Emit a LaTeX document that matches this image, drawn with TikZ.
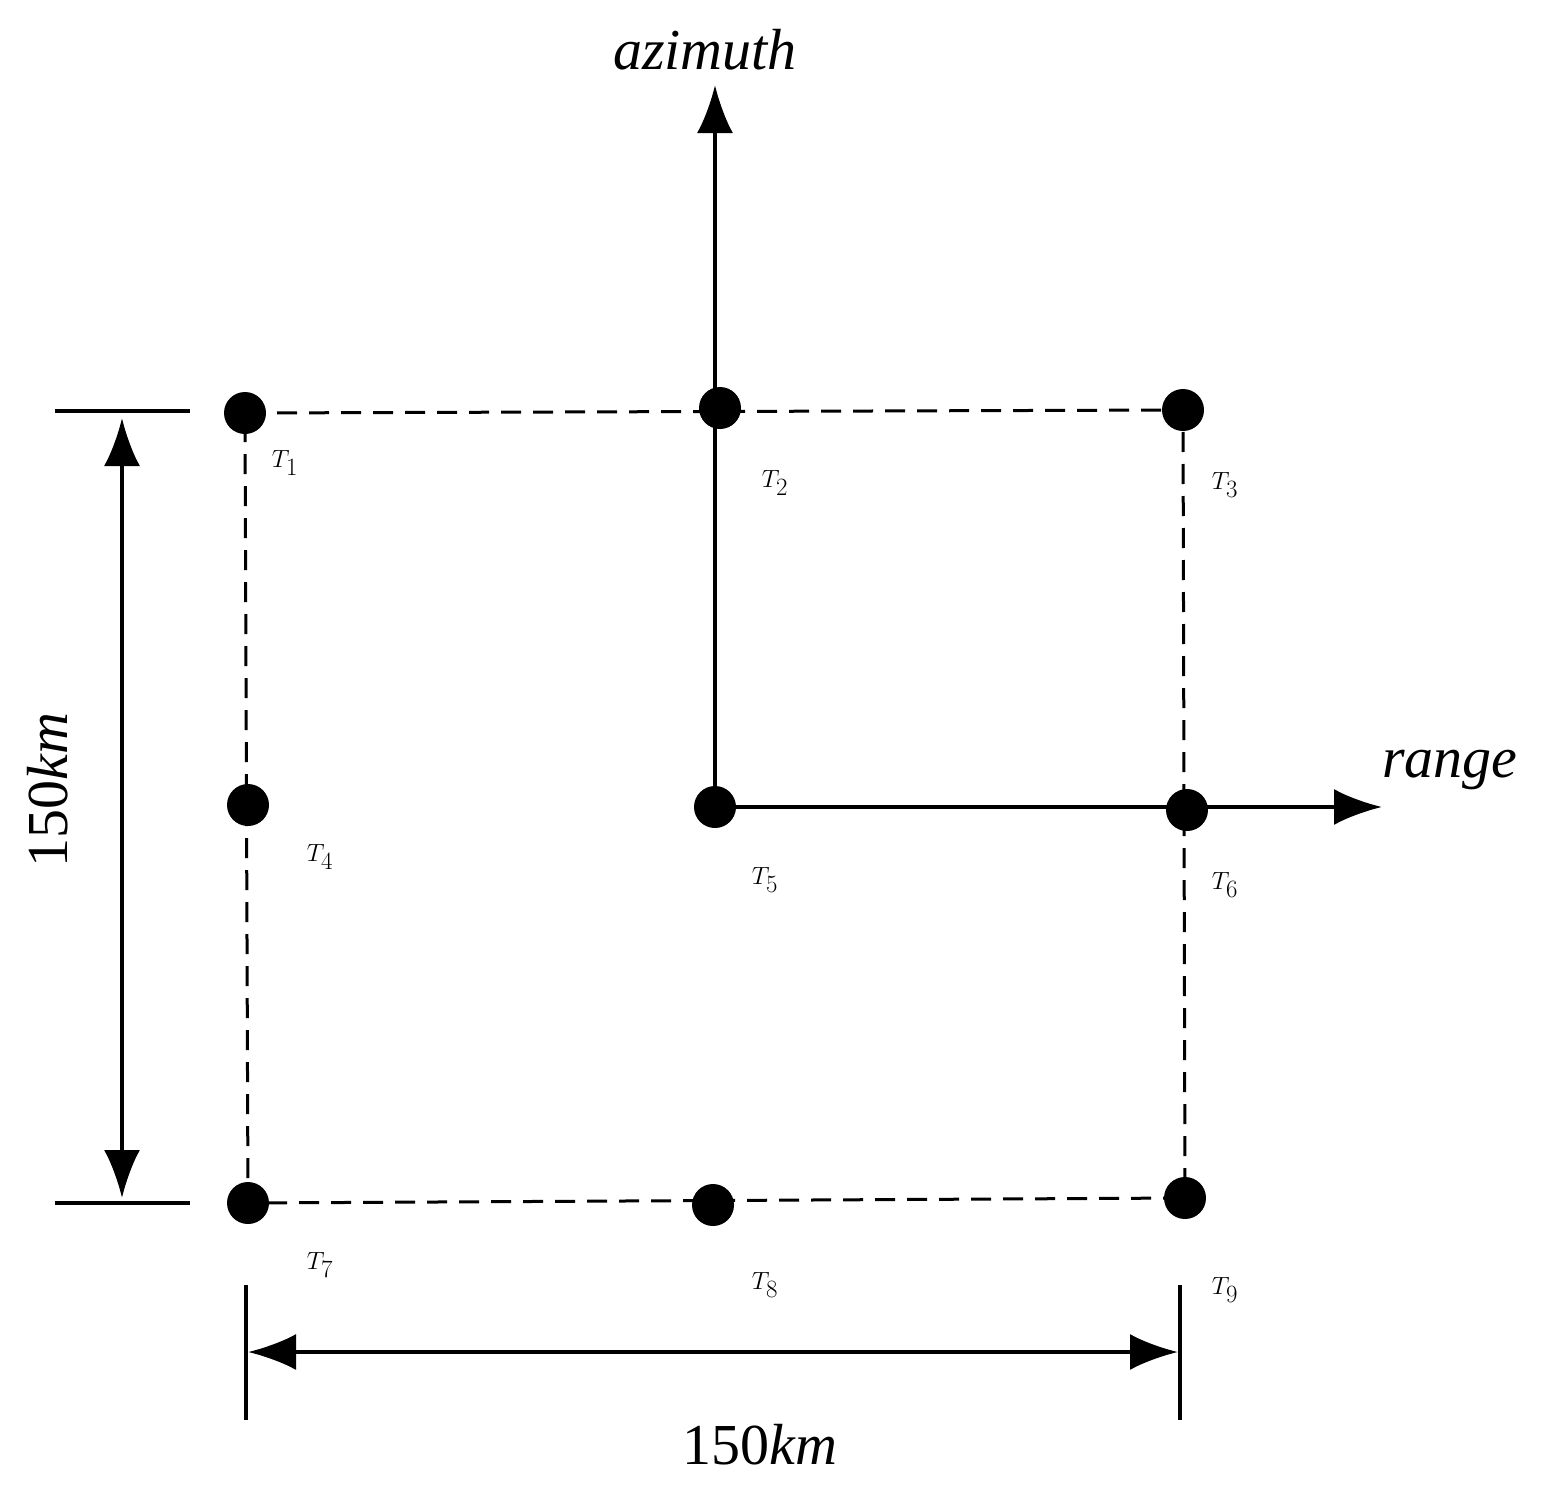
\documentclass[tikz,border=0pt]{standalone}
\usepackage{fontspec}
\setmainfont{Liberation Serif}
\usetikzlibrary{arrows.meta}
\begin{document}
\begin{tikzpicture}[x=1pt,y=-1pt,
  dot/.style={circle,fill=black,inner sep=0pt,minimum size=42pt},
  dsh/.style={line width=3pt,dash pattern=on 20pt off 12pt},
  ln/.style={line width=4pt},
  arr/.style={ln,-{Latex[length=48pt,width=36pt]}},
  darr/.style={ln,{Latex[length=48pt,width=36pt]}-{Latex[length=48pt,width=36pt]}},
  lab/.style={font=\fontsize{58}{60}\selectfont,inner sep=0pt}]
\useasboundingbox (0,0) rectangle (1550,1491);
\node[dot] (T1) at (245,413) {};
\node[dot] (T2) at (720,408) {};
\node[dot] (T3) at (1183,410) {};
\node[dot] (T4) at (248,805) {};
\node[dot] (T5) at (715,807) {};
\node[dot] (T6) at (1187,810) {};
\node[dot] (T7) at (248,1203) {};
\node[dot] (T8) at (713,1205) {};
\node[dot] (T9) at (1185,1198) {};
\draw[dsh] (T1.center) -- (T3.center) -- (T9.center) -- (T7.center) -- cycle;
\coordinate (az) at (715,85);
\coordinate (rg) at (1382,807);
\draw[arr] (T5.center) -- (az);
\draw[arr] (T5.center) -- (rg);
\node[lab,anchor=south] at (705,70) {\itshape azimuth};
\node[lab] at (1450,770) {\itshape range};
\foreach \n/\x/\y in {1/285/463,2/775/483,3/1225/485,4/320/857,5/765/880,6/1225/885,7/320/1265,8/765/1285,9/1225/1290}
  \node[lab] at (\x,\y) {$T_{\n}$};
% vertical dimension
\coordinate (a1) at (55,411); \coordinate (a2) at (190,411);
\coordinate (b1) at (55,1203); \coordinate (b2) at (190,1203);
\draw[ln] (a1) -- (a2); \draw[ln] (b1) -- (b2);
\coordinate (v1) at (122,418); \coordinate (v2) at (122,1198);
\draw[darr] (v1) -- (v2);
\node[lab,rotate=90] at (48,790) {150\textit{km}};
% horizontal dimension
\coordinate (c1) at (246,1285); \coordinate (c2) at (246,1420);
\coordinate (d1) at (1180,1285); \coordinate (d2) at (1180,1420);
\draw[ln] (c1) -- (c2); \draw[ln] (d1) -- (d2);
\coordinate (h1) at (248,1352); \coordinate (h2) at (1178,1352);
\draw[darr] (h1) -- (h2);
\node[lab] at (760,1445) {150\textit{km}};
\end{tikzpicture}
\end{document}
